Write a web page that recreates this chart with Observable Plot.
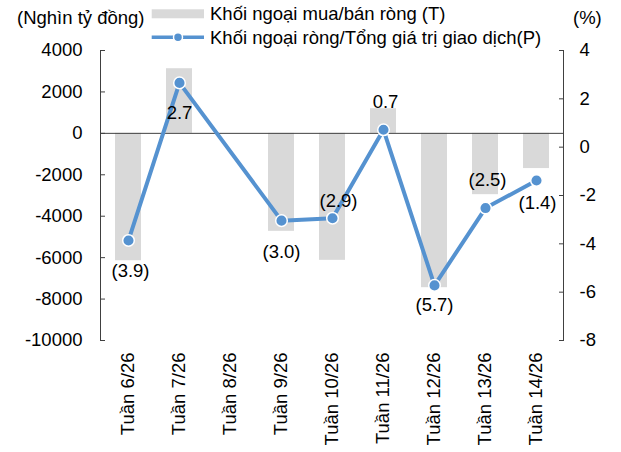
<!DOCTYPE html>
<html>
<head>
<meta charset="utf-8">
<script src="https://cdn.jsdelivr.net/npm/d3@7"></script>
<script src="https://cdn.jsdelivr.net/npm/@observablehq/plot@0.6"></script>
<style>
  body { margin: 0; background: #fff; }
  #wrap { position: relative; width: 621px; height: 452px; font-family: "Liberation Sans", Arial, sans-serif; font-size: 18.5px; color: #000; }
  .abs { position: absolute; white-space: nowrap; line-height: 20px; }
  #chart { position: absolute; left: 0; top: 0; }
  #chart svg { display: block; }
</style>
</head>
<body>
<div id="wrap">
  <div id="chart"></div>
  <div class="abs" style="left:17px; top:8px;">(Nghìn tỷ đồng)</div>
  <div class="abs" style="left:573px; top:8px;">(%)</div>
  <svg class="abs" style="left:150px; top:0px;" width="58" height="50">
    <rect x="1.7" y="9.3" width="52.3" height="9" fill="#D9D9D9"></rect>
    <line x1="1.7" x2="54" y1="37.3" y2="37.3" stroke="#5592D0" stroke-width="3.5"></line>
    <circle cx="28" cy="37.3" r="4.5" fill="#5592D0" stroke="#fff" stroke-width="1.5"></circle>
  </svg>
  <div class="abs" style="left:210px; top:4px;">Khối ngoại mua/bán ròng (T)</div>
  <div class="abs" style="left:210px; top:28px;">Khối ngoại ròng/Tổng giá trị giao dịch(P)</div>
</div>
<script>
// ---- data ----
const weeks = ["Tuần 6/26", "Tuần 7/26", "Tuần 8/26", "Tuần 9/26", "Tuần 10/26", "Tuần 11/26", "Tuần 12/26", "Tuần 13/26", "Tuần 14/26"];
const netBuy = [-6150, 3120, null, -4730, -6130, 1190, -7450, -2960, -1700];   // Nghìn tỷ đồng (left axis)
const netRatio = [-3.86, 2.66, null, -3.04, -2.94, 0.72, -5.72, -2.52, -1.38]; // % (right axis)
const leftTicks = [-10000, -8000, -6000, -4000, -2000, 0, 2000, 4000];
const rightTicks = [-8, -6, -4, -2, 0, 2, 4];
// label placement (pixel offsets from each point)
const labelDx = [2, 0, null, 0, 6, 2, 0, 2, 1];
const labelDy = [31, 30, null, 31, -17, -28, 20, -28, 23];

// ---- helpers ----
const leftDomain = [-10000, 4000];
const rightDomain = [-8, 4];
const toY = p => leftDomain[0] + (p - rightDomain[0]) * (leftDomain[1] - leftDomain[0]) / (rightDomain[1] - rightDomain[0]);
const fromY = y => rightDomain[0] + (y - leftDomain[0]) * (rightDomain[1] - rightDomain[0]) / (leftDomain[1] - leftDomain[0]);
const fmtP = p => p < 0 ? `(${Math.abs(p).toFixed(1)})` : p.toFixed(1);

const rows = weeks.map((w, i) => ({week: w, t: netBuy[i], p: netRatio[i], dx: labelDx[i], dy: labelDy[i]}));
const bars = rows.filter(d => d.t != null);
const pts = rows.filter(d => d.p != null);

const blue = "#5592D0";
const axisColor = "#404040";

const chart = Plot.plot({
  width: 621,
  height: 452,
  marginTop: 50,
  marginBottom: 112,
  marginLeft: 100,
  marginRight: 58,
  style: {fontFamily: "'Liberation Sans', Arial, sans-serif", fontSize: "18.5px", color: "#000", background: "transparent", overflow: "visible"},
  x: {domain: weeks, paddingInner: 0.5, paddingOuter: 0.25},
  y: {domain: leftDomain},
  marks: [
    Plot.barY(bars, {x: "week", y: "t", fill: "#D9D9D9"}),
    Plot.ruleY([0], {stroke: axisColor, strokeWidth: 1}),
    Plot.frame({anchor: "left", stroke: axisColor}),
    Plot.frame({anchor: "right", stroke: axisColor}),
    Plot.axisY({anchor: "left", ticks: leftTicks, tickSize: -5, tickPadding: 23, tickFormat: d => String(d), stroke: axisColor, label: null}),
    Plot.axisY({anchor: "right", ticks: rightTicks.map(toY), tickSize: -5, tickPadding: 21, textAnchor: "start",
      tickFormat: y => String(Math.round(fromY(y)) + 0), stroke: axisColor, label: null}),
    Plot.axisX({anchor: "bottom", tickSize: 0, tickRotate: -90, tickPadding: 12, label: null}),
    Plot.line(pts, {x: "week", y: d => toY(d.p), stroke: blue, strokeWidth: 4, curve: "linear"}),
    Plot.dot(pts, {x: "week", y: d => toY(d.p), r: 5.8, fill: blue, stroke: "#fff", strokeWidth: 1.5}),
    ...pts.map(d => Plot.text([d], {x: "week", y: r => toY(r.p), text: r => fmtP(r.p), dx: d.dx, dy: d.dy, fill: "#000"}))
  ]
});
document.getElementById("chart").appendChild(chart);
</script>
</body>
</html>
